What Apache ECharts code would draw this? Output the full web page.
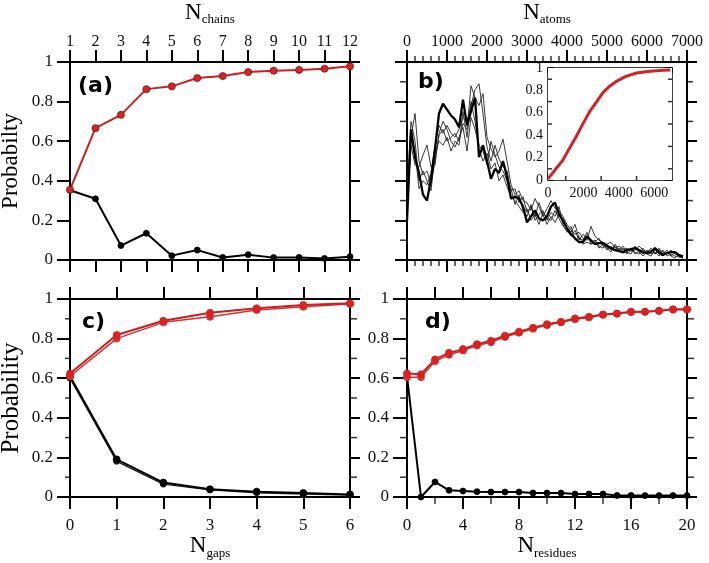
<!DOCTYPE html>
<html><head><meta charset="utf-8">
<script src="https://cdn.jsdelivr.net/npm/echarts@6/dist/echarts.min.js"></script>
<style>html,body{margin:0;padding:0;background:#fff}#c{width:709px;height:563px}</style>
</head><body><div id="c"></div>
<script>
// ---------- Panel (a) ----------
const chains = [1,2,3,4,5,6,7,8,9,10,11,12];
const aRed   = [0.355,0.666,0.733,0.863,0.877,0.919,0.929,0.949,0.956,0.960,0.966,0.978];
const aBlack = [0.352,0.309,0.073,0.135,0.022,0.050,0.013,0.027,0.012,0.013,0.008,0.017];

// ---------- Panel (b) ----------
const atoms = [0,100,200,300,400,500,600,700,800,900,1000,1100,1200,1300,1400,1500,1600,1700,1800,1900,
  2000,2100,2200,2300,2400,2500,2600,2700,2800,2900,3000,3100,3200,3300,3400,3500,3600,3700,3800,3900,
  4000,4100,4200,4300,4400,4500,4600,4700,4800,4900,5000,5100,5200,5300,5400,5500,5600,5700,5800,5900,
  6000,6100,6200,6300,6400,6500,6600,6700,6800,6900];
const bThick = [0.20,0.66,0.52,0.44,0.33,0.30,0.41,0.56,0.74,0.79, 0.76,0.73,0.71,0.67,0.81,0.68,0.75,0.82,0.52,0.58,
  0.50,0.41,0.46,0.44,0.50,0.42,0.31,0.32,0.31,0.27, 0.19,0.22,0.25,0.21,0.20,0.22,0.27,0.29,0.23,0.20,
  0.16,0.13,0.11,0.09,0.09,0.12,0.10,0.08,0.085,0.085, 0.07,0.06,0.05,0.045,0.04,0.05,0.055,0.06,0.05,0.04,
  0.035,0.04,0.06,0.04,0.025,0.035,0.04,0.04,0.025,0.018];
const bThin1 = [0.30,0.62,0.74,0.50,0.43,0.45,0.38,0.50,0.63,0.66, 0.60,0.62,0.64,0.60,0.69,0.66,0.88,0.82,0.78,0.84,
  0.62,0.56,0.52,0.55,0.61,0.50,0.38,0.33,0.35,0.30, 0.29,0.25,0.31,0.27,0.22,0.26,0.30,0.26,0.25,0.22,
  0.18,0.15,0.13,0.14,0.11,0.10,0.17,0.12,0.10,0.09, 0.08,0.09,0.06,0.07,0.05,0.06,0.045,0.05,0.07,0.05,
  0.04,0.06,0.03,0.05,0.04,0.03,0.05,0.03,0.02,0.01];
const bThin2 = [0.25,0.58,0.48,0.47,0.53,0.58,0.47,0.48,0.64,0.70, 0.66,0.60,0.57,0.62,0.67,0.55,0.72,0.66,0.58,0.55,
  0.48,0.60,0.53,0.47,0.45,0.40,0.36,0.28,0.33,0.25, 0.22,0.28,0.20,0.23,0.25,0.20,0.24,0.22,0.27,0.18,
  0.14,0.17,0.10,0.12,0.08,0.09,0.08,0.10,0.07,0.06, 0.08,0.05,0.07,0.04,0.06,0.03,0.05,0.04,0.03,0.06,
  0.03,0.02,0.05,0.03,0.02,0.04,0.02,0.01,0.03,0.015];
const bThin3 = [0.35,0.70,0.60,0.40,0.45,0.40,0.35,0.54,0.60,0.58, 0.62,0.55,0.60,0.58,0.75,0.62,0.80,0.70,0.56,0.50,
  0.54,0.46,0.49,0.40,0.43,0.37,0.32,0.30,0.27,0.24, 0.26,0.20,0.23,0.18,0.24,0.21,0.20,0.25,0.21,0.17,
  0.15,0.12,0.15,0.10,0.13,0.11,0.09,0.10,0.06,0.08, 0.05,0.07,0.05,0.06,0.035,0.04,0.06,0.03,0.045,0.03,
  0.05,0.03,0.04,0.02,0.05,0.02,0.03,0.02,0.015,0.01];
const bThin4 = [0.28,0.64,0.55,0.36,0.40,0.38,0.44,0.58,0.68,0.64, 0.68,0.64,0.62,0.66,0.72,0.70,0.78,0.86,0.89,0.74,
  0.57,0.50,0.58,0.51,0.47,0.45,0.35,0.36,0.29,0.32, 0.24,0.27,0.22,0.29,0.23,0.18,0.22,0.19,0.23,0.19,
  0.16,0.14,0.18,0.11,0.10,0.14,0.08,0.09,0.11,0.07, 0.06,0.04,0.08,0.05,0.07,0.04,0.03,0.07,0.04,0.02,
  0.04,0.05,0.03,0.06,0.03,0.05,0.02,0.04,0.02,0.01];

// ---------- Inset of (b) ----------
const insetAtoms = [0,100,450,850,1200,1600,2000,2350,2750,3100,3500,3850,4400,5000,5750,6500,6900];
const insetProb  = [0.01,0.03,0.10,0.18,0.28,0.39,0.51,0.61,0.70,0.78,0.84,0.88,0.925,0.955,0.97,0.979,0.983];

// ---------- Panel (c) ----------
const gaps = [0,1,2,3,4,5,6];
const cRed1   = [0.624,0.818,0.890,0.930,0.953,0.970,0.978];
const cRed2   = [0.610,0.800,0.882,0.910,0.944,0.961,0.975];
const cBlack1 = [0.610,0.190,0.073,0.039,0.027,0.020,0.013];
const cBlack2 = [0.600,0.180,0.065,0.036,0.022,0.015,0.010];

// ---------- Panel (d) ----------
const residues = [0,1,2,3,4,5,6,7,8,9,10,11,12,13,14,15,16,17,18,19,20];
const dRed1  = [0.624,0.620,0.695,0.728,0.747,0.772,0.789,0.815,0.835,0.855,0.873,0.885,0.902,0.910,0.922,0.927,0.936,0.936,0.941,0.948,0.948];
const dRed2  = [0.605,0.605,0.685,0.718,0.740,0.765,0.782,0.808,0.830,0.850,0.868,0.882,0.898,0.907,0.920,0.925,0.934,0.935,0.940,0.946,0.947];
const dBlack = [0.610,0.000,0.076,0.034,0.030,0.027,0.025,0.025,0.025,0.020,0.020,0.020,0.015,0.015,0.015,0.008,0.008,0.007,0.007,0.007,0.007];

// ---------- Minor tick positions ----------
const bMinorX = [200,400,600,800,1200,1400,1600,1800,2200,2400,2600,2800,3200,3400,3600,3800,
                 4200,4400,4600,4800,5200,5400,5600,5800,6200,6400,6600,6800];
const probMinor = [0.1,0.3,0.5,0.7,0.9];
const dMinorX = [2,6,10,14,18];
const insetMinorX = [1000,3000,5000];

// ---------- Labels ----------
const yNameA = 'Probabilty';
const yNameC = 'Probability';
const panelLabels = ['(a)', 'b)', 'c)', 'd)'];

const FONT = 'Liberation Serif';
const RED = '#cc1f1f';

function ax(gridIndex, position, min, max, interval, o) {
  o = o || {};
  return {
    type: 'value', gridIndex: gridIndex, position: position, min: min, max: max, interval: interval,
    axisLine: {show: true, onZero: false, lineStyle: {color: '#000', width: o.lw || 2}},
    axisTick: {show: true, inside: !!o.inside, length: o.tickLen != null ? o.tickLen : 12,
               lineStyle: {color: '#000', width: o.lw || 2}},
    axisLabel: {show: !!o.labels, margin: o.margin != null ? o.margin : 8, color: '#111',
                fontFamily: FONT, fontSize: o.fs || 17, showMinLabel: true,
                showMaxLabel: o.noMax ? false : true, hideOverlap: false,
                formatter: function (v) { return String(v); }},
    splitLine: {show: false},
    name: o.name || '', nameLocation: 'middle', nameGap: o.nameGap || 0,
    nameTextStyle: o.nameStyle || {},
    silent: true
  };
}

function subName(big, small) {
  return {
    name: '{n|' + big + '}{s|' + small + '}',
    nameStyle: {
      fontFamily: FONT, color: '#000',
      rich: {
        n: {fontFamily: FONT, fontSize: 23, color: '#000'},
        s: {fontFamily: FONT, fontSize: 13, color: '#000', padding: [14, 0, 0, 0]}
      }
    }
  };
}

const nmChains = subName('N', 'chains');
const nmAtoms = subName('N', 'atoms');
const nmGaps = subName('N', 'gaps');
const nmRes = subName('N', 'residues');

const xAxes = [
  ax(0, 'top', 1, 12, 1, {labels: true, margin: 12, fs: 16, name: nmChains.name, nameStyle: nmChains.nameStyle, nameGap: 36}),
  ax(0, 'bottom', 1, 12, 1, {}),
  ax(1, 'top', 0, 7000, 1000, {labels: true, margin: 12, fs: 16, name: nmAtoms.name, nameStyle: nmAtoms.nameStyle, nameGap: 36}),
  ax(1, 'bottom', 0, 7000, 1000, {}),
  ax(2, 'bottom', 0, 6, 1, {labels: true, margin: 20, fs: 17, name: nmGaps.name, nameStyle: nmGaps.nameStyle, nameGap: 34}),
  ax(2, 'top', 0, 6, 1, {}),
  ax(3, 'bottom', 0, 20, 4, {labels: true, margin: 20, fs: 17, name: nmRes.name, nameStyle: nmRes.nameStyle, nameGap: 34}),
  ax(3, 'top', 0, 20, 2, {}),
  ax(4, 'bottom', 0, 7000, 2000, {labels: true, inside: true, tickLen: 7, margin: 6, fs: 14, lw: 1.5, noMax: true}),
  ax(4, 'top', 0, 7000, 1000, {inside: true, tickLen: 5, lw: 1.5})
];

const yAxes = [
  ax(0, 'left', 0, 1, 0.2, {labels: true, margin: 17, tickLen: 13, name: yNameA, nameGap: 48,
     nameStyle: {fontFamily: FONT, fontSize: 23, color: '#000'}}),
  ax(0, 'right', 0, 1, 0.2, {tickLen: 10}),
  ax(1, 'left', 0, 1, 0.2, {tickLen: 12}),
  ax(1, 'right', 0, 1, 0.2, {tickLen: 10}),
  ax(2, 'left', 0, 1, 0.2, {labels: true, margin: 17, tickLen: 13, name: yNameC, nameGap: 46,
     nameStyle: {fontFamily: FONT, fontSize: 25, color: '#000'}}),
  ax(2, 'right', 0, 1, 0.2, {tickLen: 10}),
  ax(3, 'left', 0, 1, 0.2, {labels: true, margin: 18, tickLen: 14}),
  ax(3, 'right', 0, 1, 0.2, {tickLen: 10}),
  ax(4, 'left', 0, 1, 0.2, {labels: true, inside: true, tickLen: 6, margin: 5, fs: 14, lw: 1.5}),
  ax(4, 'right', 0, 1, 0.2, {inside: true, tickLen: 7, lw: 1.5})
];

function pairs(xs, ys) { return xs.map(function (x, i) { return [x, ys[i]]; }); }

function mkLine(xi, yi, xs, ys, color, o) {
  o = o || {};
  return {
    type: 'line', xAxisIndex: xi, yAxisIndex: yi, data: pairs(xs, ys),
    symbol: o.symbol || 'circle', symbolSize: o.size || 7, showSymbol: o.noSym ? false : true,
    lineStyle: {color: color, width: o.width || 2},
    itemStyle: {color: o.fill || color, borderColor: o.border || color, borderWidth: o.bw != null ? o.bw : 0.8},
    z: o.z || 3, silent: true, animation: false
  };
}

// minor ticks: thin rectangles placed on the axis values, shifted off the frame
function ticks(xi, yi, pts, side, len, inside) {
  const w = 1.5;
  const dir = inside ? -1 : 1;
  let size, off;
  if (side === 'top')    { size = [w, len]; off = [0, -dir * len / 2]; }
  if (side === 'bottom') { size = [w, len]; off = [0,  dir * len / 2]; }
  if (side === 'left')   { size = [len, w]; off = [-dir * len / 2, 0]; }
  if (side === 'right')  { size = [len, w]; off = [ dir * len / 2, 0]; }
  return {
    type: 'scatter', xAxisIndex: xi, yAxisIndex: yi, data: pts, clip: false,
    symbol: 'rect', symbolSize: size, symbolOffset: off,
    itemStyle: {color: '#000'}, silent: true, z: 6, animation: false
  };
}
function atX(xs, y) { return xs.map(function (x) { return [x, y]; }); }
function atY(ys, x) { return ys.map(function (y) { return [x, y]; }); }

const series = [
  mkLine(0, 0, chains, aBlack, '#000', {size: 6}),
  mkLine(0, 0, chains, aRed, RED, {fill: '#d82424', border: '#7a1010', z: 4}),

  mkLine(2, 2, atoms, bThin1, '#222', {noSym: true, width: 0.9}),
  mkLine(2, 2, atoms, bThin2, '#222', {noSym: true, width: 0.9}),
  mkLine(2, 2, atoms, bThin3, '#222', {noSym: true, width: 0.9}),
  mkLine(2, 2, atoms, bThin4, '#222', {noSym: true, width: 0.9}),
  mkLine(2, 2, atoms, bThick, '#000', {noSym: true, width: 2.3, z: 4}),

  mkLine(8, 8, insetAtoms, insetProb, '#d02424', {noSym: true, width: 3, z: 5}),

  mkLine(4, 4, gaps, cBlack2, '#222', {size: 6, width: 1.5}),
  mkLine(4, 4, gaps, cBlack1, '#000', {size: 7}),
  mkLine(4, 4, gaps, cRed2, '#d63030', {size: 7, width: 1.5, z: 4}),
  mkLine(4, 4, gaps, cRed1, RED, {size: 7, fill: '#e02020', z: 4}),

  mkLine(6, 6, residues, dBlack, '#000', {size: 6}),
  mkLine(6, 6, residues, dRed2, '#d63030', {size: 7, width: 1.5, z: 4}),
  mkLine(6, 6, residues, dRed1, RED, {size: 7, fill: '#e02020', z: 4}),

  // minor ticks
  ticks(2, 2, atX(bMinorX, 1), 'top', 6),
  ticks(2, 2, atX(bMinorX, 0), 'bottom', 6),
  ticks(2, 2, atY(probMinor, 0), 'left', 7),
  ticks(2, 2, atY(probMinor, 7000), 'right', 6),
  ticks(4, 4, atY(probMinor, 0), 'left', 5),
  ticks(4, 4, atY(probMinor, 6), 'right', 7),
  ticks(6, 6, atX(dMinorX, 0), 'bottom', 7),
  ticks(6, 6, atY(probMinor, 0), 'left', 7),
  ticks(6, 6, atY(probMinor, 20), 'right', 7),
  ticks(8, 8, atX(insetMinorX, 0), 'bottom', 4, true),
  ticks(8, 8, atY(probMinor, 0), 'left', 4, true),
  ticks(8, 8, atY(probMinor, 7000), 'right', 4, true)
];

const labelPos = [[78, 75], [418, 71], [82, 311], [425, 311]];
const graphic = panelLabels.map(function (t, i) {
  return {type: 'text', left: labelPos[i][0], top: labelPos[i][1], z: 10,
          style: {text: t, font: 'bold 22px "DejaVu Sans"', fill: '#000'}};
});

const chart = echarts.init(document.getElementById('c'), null, {renderer: 'canvas'});
chart.setOption({
  animation: false,
  backgroundColor: '#fff',
  grid: [
    {left: 70, top: 62, width: 280, height: 198, outerBoundsMode: 'none'},
    {left: 407, top: 62, width: 280, height: 198, outerBoundsMode: 'none'},
    {left: 70, top: 299, width: 280, height: 198, outerBoundsMode: 'none'},
    {left: 407, top: 299, width: 280, height: 198, outerBoundsMode: 'none'},
    {left: 548, top: 68, width: 124, height: 112, outerBoundsMode: 'none', show: true,
     backgroundColor: '#fff', borderWidth: 0, z: 3}
  ],
  xAxis: xAxes,
  yAxis: yAxes,
  series: series,
  graphic: graphic
});
</script></body></html>
